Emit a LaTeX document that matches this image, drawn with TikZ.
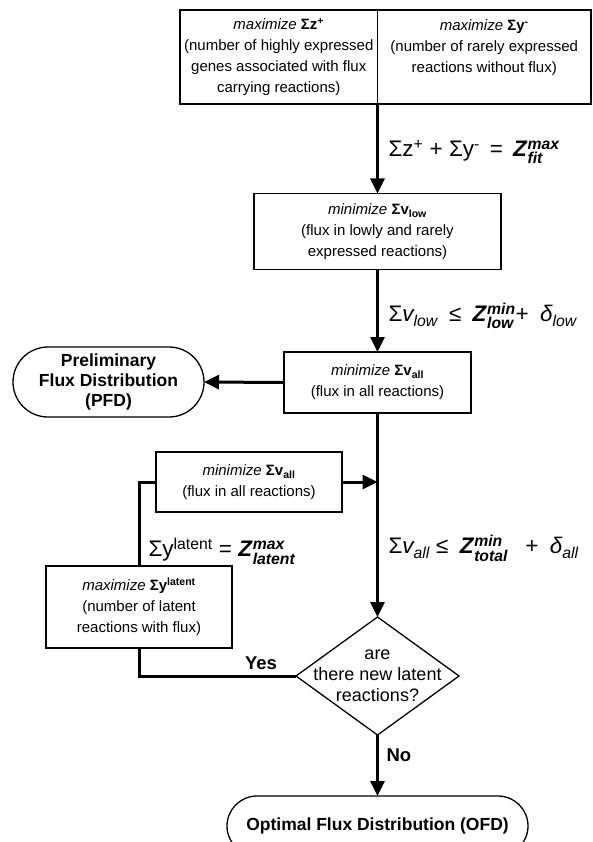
\documentclass[tikz,border=0pt]{standalone}
\usepackage{amsmath}
\usepackage{fontspec}
\setmainfont{Liberation Sans}
\usetikzlibrary{arrows.meta,positioning,shapes.geometric}
\newcommand{\bfit}[1]{\text{\bfseries\itshape #1}}
\tikzset{
  every node/.style={font=\fontsize{15}{21}\selectfont},
  stepbox/.style={draw, line width=1.3pt, outer sep=0pt, inner sep=2pt, align=center, fill=white},
  endbox/.style={stepbox, font=\fontsize{17.5}{20}\selectfont\bfseries},
  decide/.style={stepbox, shape=diamond, aspect=1.38, inner sep=-11pt, font=\fontsize{18}{21}\selectfont},
  flowline/.style={line width=3pt, -{Triangle[length=15pt,width=14pt]}},
  plainline/.style={line width=3pt},
  eqlabel/.style={anchor=west, font=\fontsize{22.5}{24}\selectfont},
  branchlabel/.style={font=\fontsize{18.5}{21}\selectfont\bfseries}
}

\begin{document}
\begin{tikzpicture}[x=1pt,y=-1pt]
\useasboundingbox (0,0) rectangle (592,842);
% first step: two objectives side by side
\node[stepbox, minimum width=197.5pt, minimum height=94pt] (highbox) at (278.75,57)
  {\textit{maximize} \textbf{Σz\textsuperscript{+}}\\(number of highly expressed\\genes associated with flux\\carrying reactions)};
\node[stepbox, minimum width=213.5pt, minimum height=94pt, anchor=west] (rarebox) at (highbox.east)
  {\textit{maximize} \textbf{Σy\textsuperscript{-}}\\(number of rarely expressed\\reactions without flux)\\\mbox{}};
\node[stepbox, minimum width=247pt, minimum height=76pt] (lowbox) at (377.5,231.5)
  {\textit{minimize} \textbf{Σv\textsubscript{low}}\\(flux in lowly and rarely\\expressed reactions)};
\node[stepbox, minimum width=187pt, minimum height=61pt] (allbox) at (377.5,382.5)
  {\textit{minimize} \textbf{Σv\textsubscript{all}}\\(flux in all reactions)};
\node[endbox, minimum width=191pt, minimum height=70pt, rounded corners=35pt] (pfd) at (108.5,382)
  {Preliminary\\Flux Distribution\\(PFD)};
% loop over latent reactions
\node[stepbox, minimum width=186pt, minimum height=60pt] (reallbox) at (249,482)
  {\textit{minimize} \textbf{Σv\textsubscript{all}}\\(flux in all reactions)};
\node[stepbox, minimum width=186pt, minimum height=82pt] (latentbox) at (139,607)
  {\textit{maximize} \textbf{Σy\textsuperscript{latent}}\\(number of latent\\reactions with flux)};
\node[decide, minimum width=163pt, minimum height=118pt] (newcheck) at (377.5,676)
  {are\\there new latent\\reactions?};
\node[endbox, minimum width=301pt, minimum height=60pt, rounded corners=30pt] (ofd) at (377.5,826)
  {Optimal Flux Distribution (OFD)};

% connectors
\draw[flowline] (highbox.south east) -- (lowbox.north);
\draw[flowline] (lowbox.south) -- (allbox.north);
\draw[flowline] (allbox.west) -- (pfd.east);
\draw[flowline] (allbox.south) -- (newcheck.north);
\coordinate (merge) at (allbox.south |- reallbox.east);
\draw[flowline] (reallbox.east) -- (merge);
\draw[plainline] (newcheck.west) -| (latentbox.south);
\draw[plainline] (latentbox.north) |- (reallbox.west);
\draw[flowline] (newcheck.south) -- (ofd.north);

% constraints and branch labels
\node[eqlabel] (fitlabel) at (385,152)
  {Σz\textsuperscript{+} + Σy\textsuperscript{-}\,\ =\ \,\textbf{\textit{Z}}$^{\bfit{max}}_{\bfit{fit}}$};
\node[eqlabel] (lowlabel) at (385,316)
  {Σ\textit{v\textsubscript{low}}\enspace≤\enspace\textbf{\textit{Z}}$^{\bfit{min}}_{\bfit{low}}$+\enspace\textit{δ\textsubscript{low}}};
\node[eqlabel] (totallabel) at (385,548)
  {Σ\textit{v\textsubscript{all}} ≤\enspace\textbf{\textit{Z}}$^{\bfit{min}}_{\bfit{total}}$\enspace\ +\enspace\textit{δ\textsubscript{all}}};
\node[eqlabel] (latentlabel) at (145,551)
  {Σy\textsuperscript{latent} = \textbf{\textit{Z}}$^{\bfit{max}}_{\bfit{latent}}$};
\node[branchlabel] (yeslabel) at (261,663) {Yes};
\node[branchlabel, anchor=west] (nolabel) at (383,755) {No};
\end{tikzpicture}
\end{document}
